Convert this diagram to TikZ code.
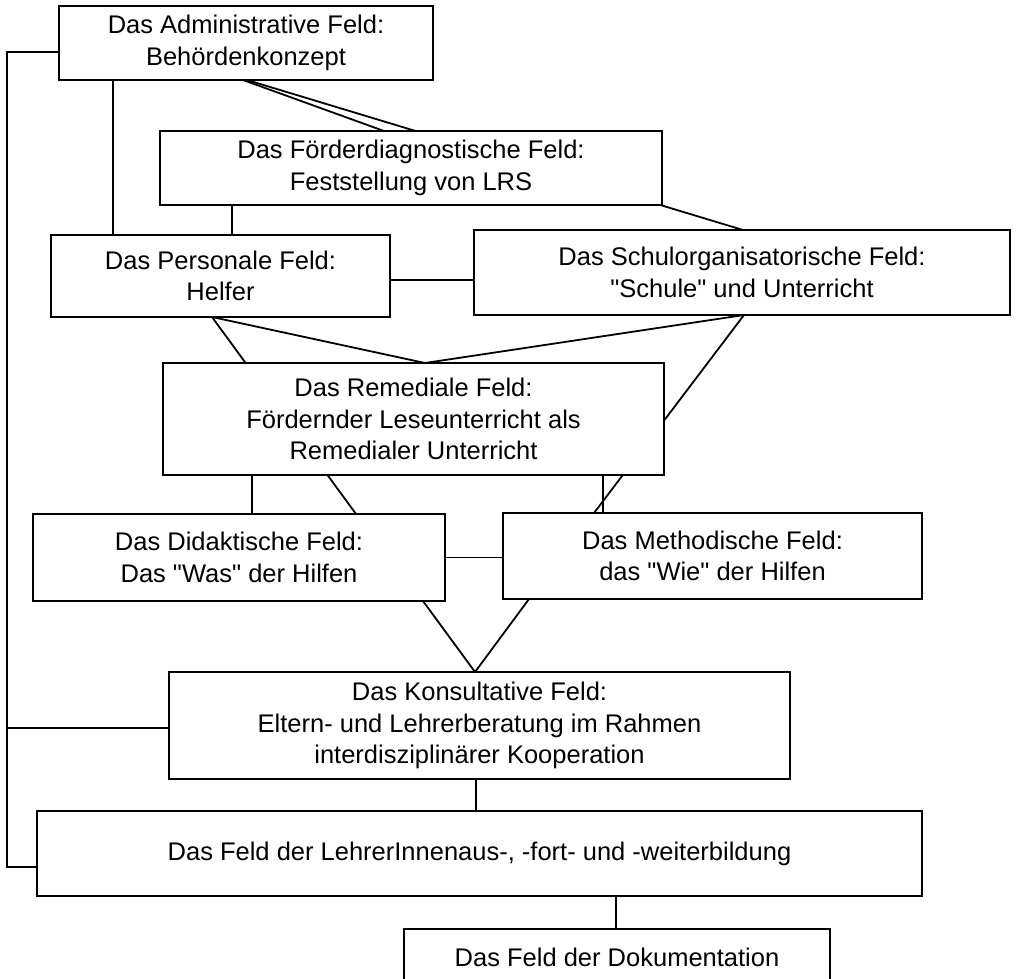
\documentclass[tikz,border=0pt]{standalone}
\usepackage{fontspec}
\setmainfont{Liberation Sans}[Ligatures=TeXOff]
\usetikzlibrary{backgrounds}
\begin{document}
\begin{tikzpicture}[x=1pt, y=-1pt,
  field/.style={draw=black, line width=1.8pt, fill=white, inner sep=0pt,
    outer sep=0pt, align=center, font=\fontsize{25.5}{31.5}\selectfont},
  link/.style={draw=black, line width=1.8pt}]
\useasboundingbox (0,0) rectangle (1019,978);

% the fields
\node[field, minimum width=374pt, minimum height=74pt] (adm) at (246,43)
  {Das Administrative Feld:\\Behördenkonzept};
\node[field, minimum width=502pt, minimum height=74pt] (foe) at (411,168)
  {Das Förderdiagnostische Feld:\\Feststellung von LRS};
\node[field, minimum width=339pt, minimum height=82pt] (per) at (220.5,276)
  {Das Personale Feld:\\Helfer};
\node[field, minimum width=536pt, minimum height=85pt] (sch) at (742,272.5)
  {Das Schulorganisatorische Feld:\\"Schule" und Unterricht};
\node[field, minimum width=501pt, minimum height=112pt] (rem) at (413.5,419)
  {Das Remediale Feld:\\Fördernder Leseunterricht als\\Remedialer Unterricht};
\node[field, minimum width=412pt, minimum height=87pt] (did) at (239,557.5)
  {Das Didaktische Feld:\\Das "Was" der Hilfen};
\node[field, minimum width=419pt, minimum height=86pt] (met) at (712.5,556)
  {Das Methodische Feld:\\das "Wie" der Hilfen};
\node[field, minimum width=621pt, minimum height=107pt] (kon) at (479.5,725.5)
  {Das Konsultative Feld:\\Eltern- und Lehrerberatung im Rahmen\\interdisziplinärer Kooperation};
\node[field, minimum width=885pt, minimum height=85pt] (leh) at (479.5,853.5)
  {Das Feld der LehrerInnenaus-, -fort- und -weiterbildung};
\node[field, minimum width=426pt, minimum height=56pt] (dok) at (617,957)
  {Das Feld der Dokumentation};

% attachment points on the box edges
\coordinate (rail) at (7,0);
\coordinate (l1) at ([yshift=-9pt]adm.west);
\coordinate (l2) at ([yshift=-13.5pt]leh.west);
\coordinate (l3) at ([yshift=-2.5pt]kon.west);
\coordinate (a1) at ([xshift=54pt]adm.south west);
\coordinate (a2) at ([xshift=184pt]adm.south west);
\coordinate (a3) at ([xshift=188pt]adm.south west);
\coordinate (f1) at ([xshift=224pt]foe.north west);
\coordinate (f2) at ([xshift=72pt]foe.south west);
\coordinate (s1) at ([xshift=269pt]sch.north west);
\coordinate (s2) at ([xshift=270pt]sch.south west);
\coordinate (p1) at ([yshift=-4pt]per.east);
\coordinate (p2) at ([xshift=161pt]per.south west);
\coordinate (r1) at ([xshift=262pt]rem.north west);
\coordinate (r2) at ([xshift=89pt]rem.south west);
\coordinate (r3) at ([xshift=440pt]rem.south west);
\coordinate (d1) at ([xshift=323pt]did.north west);
\coordinate (d2) at ([xshift=390pt]did.south west);
\coordinate (m1) at ([xshift=91pt]met.north west);
\coordinate (m2) at ([xshift=26pt]met.south west);
\coordinate (k1) at ([xshift=306pt]kon.north west);
\coordinate (k2) at ([xshift=307pt]kon.south west);
\coordinate (e1) at ([xshift=579pt]leh.south west);

% connectors, kept behind the white boxes
\begin{pgfonlayer}{background}
\fill[white] (0,0) rectangle (1019,978);
\draw[link] (l1) -- (l1 -| rail) -- (l2 -| rail) -- (l2);
\draw[link] (l3) -- (l3 -| rail);
\draw[link] (a1) -- (a1 |- per.north);
\draw[link] (a2) -- (f1);
\draw[link] (a3) -- (s1);
\draw[link] (f2) -- (f2 |- per.north);
\draw[link] (p1) -- (p1 -| sch.west);
\draw[link] (p2) -- (r1);
\draw[link] (p2) -- (d1);
\draw[link] (s2) -- (r1);
\draw[link] (s2) -- (m1);
\draw[link] (r2) -- (r2 |- did.north);
\draw[link] (r3) -- (r3 |- met.north);
\draw[link] (did.east) -- (did.east -| met.west);
\draw[link] (d2) -- (k1);
\draw[link] (m2) -- (k1);
\draw[link] (k2) -- (k2 |- leh.north);
\draw[link] (e1) -- (e1 |- dok.north);
\end{pgfonlayer}
\end{tikzpicture}
\end{document}
